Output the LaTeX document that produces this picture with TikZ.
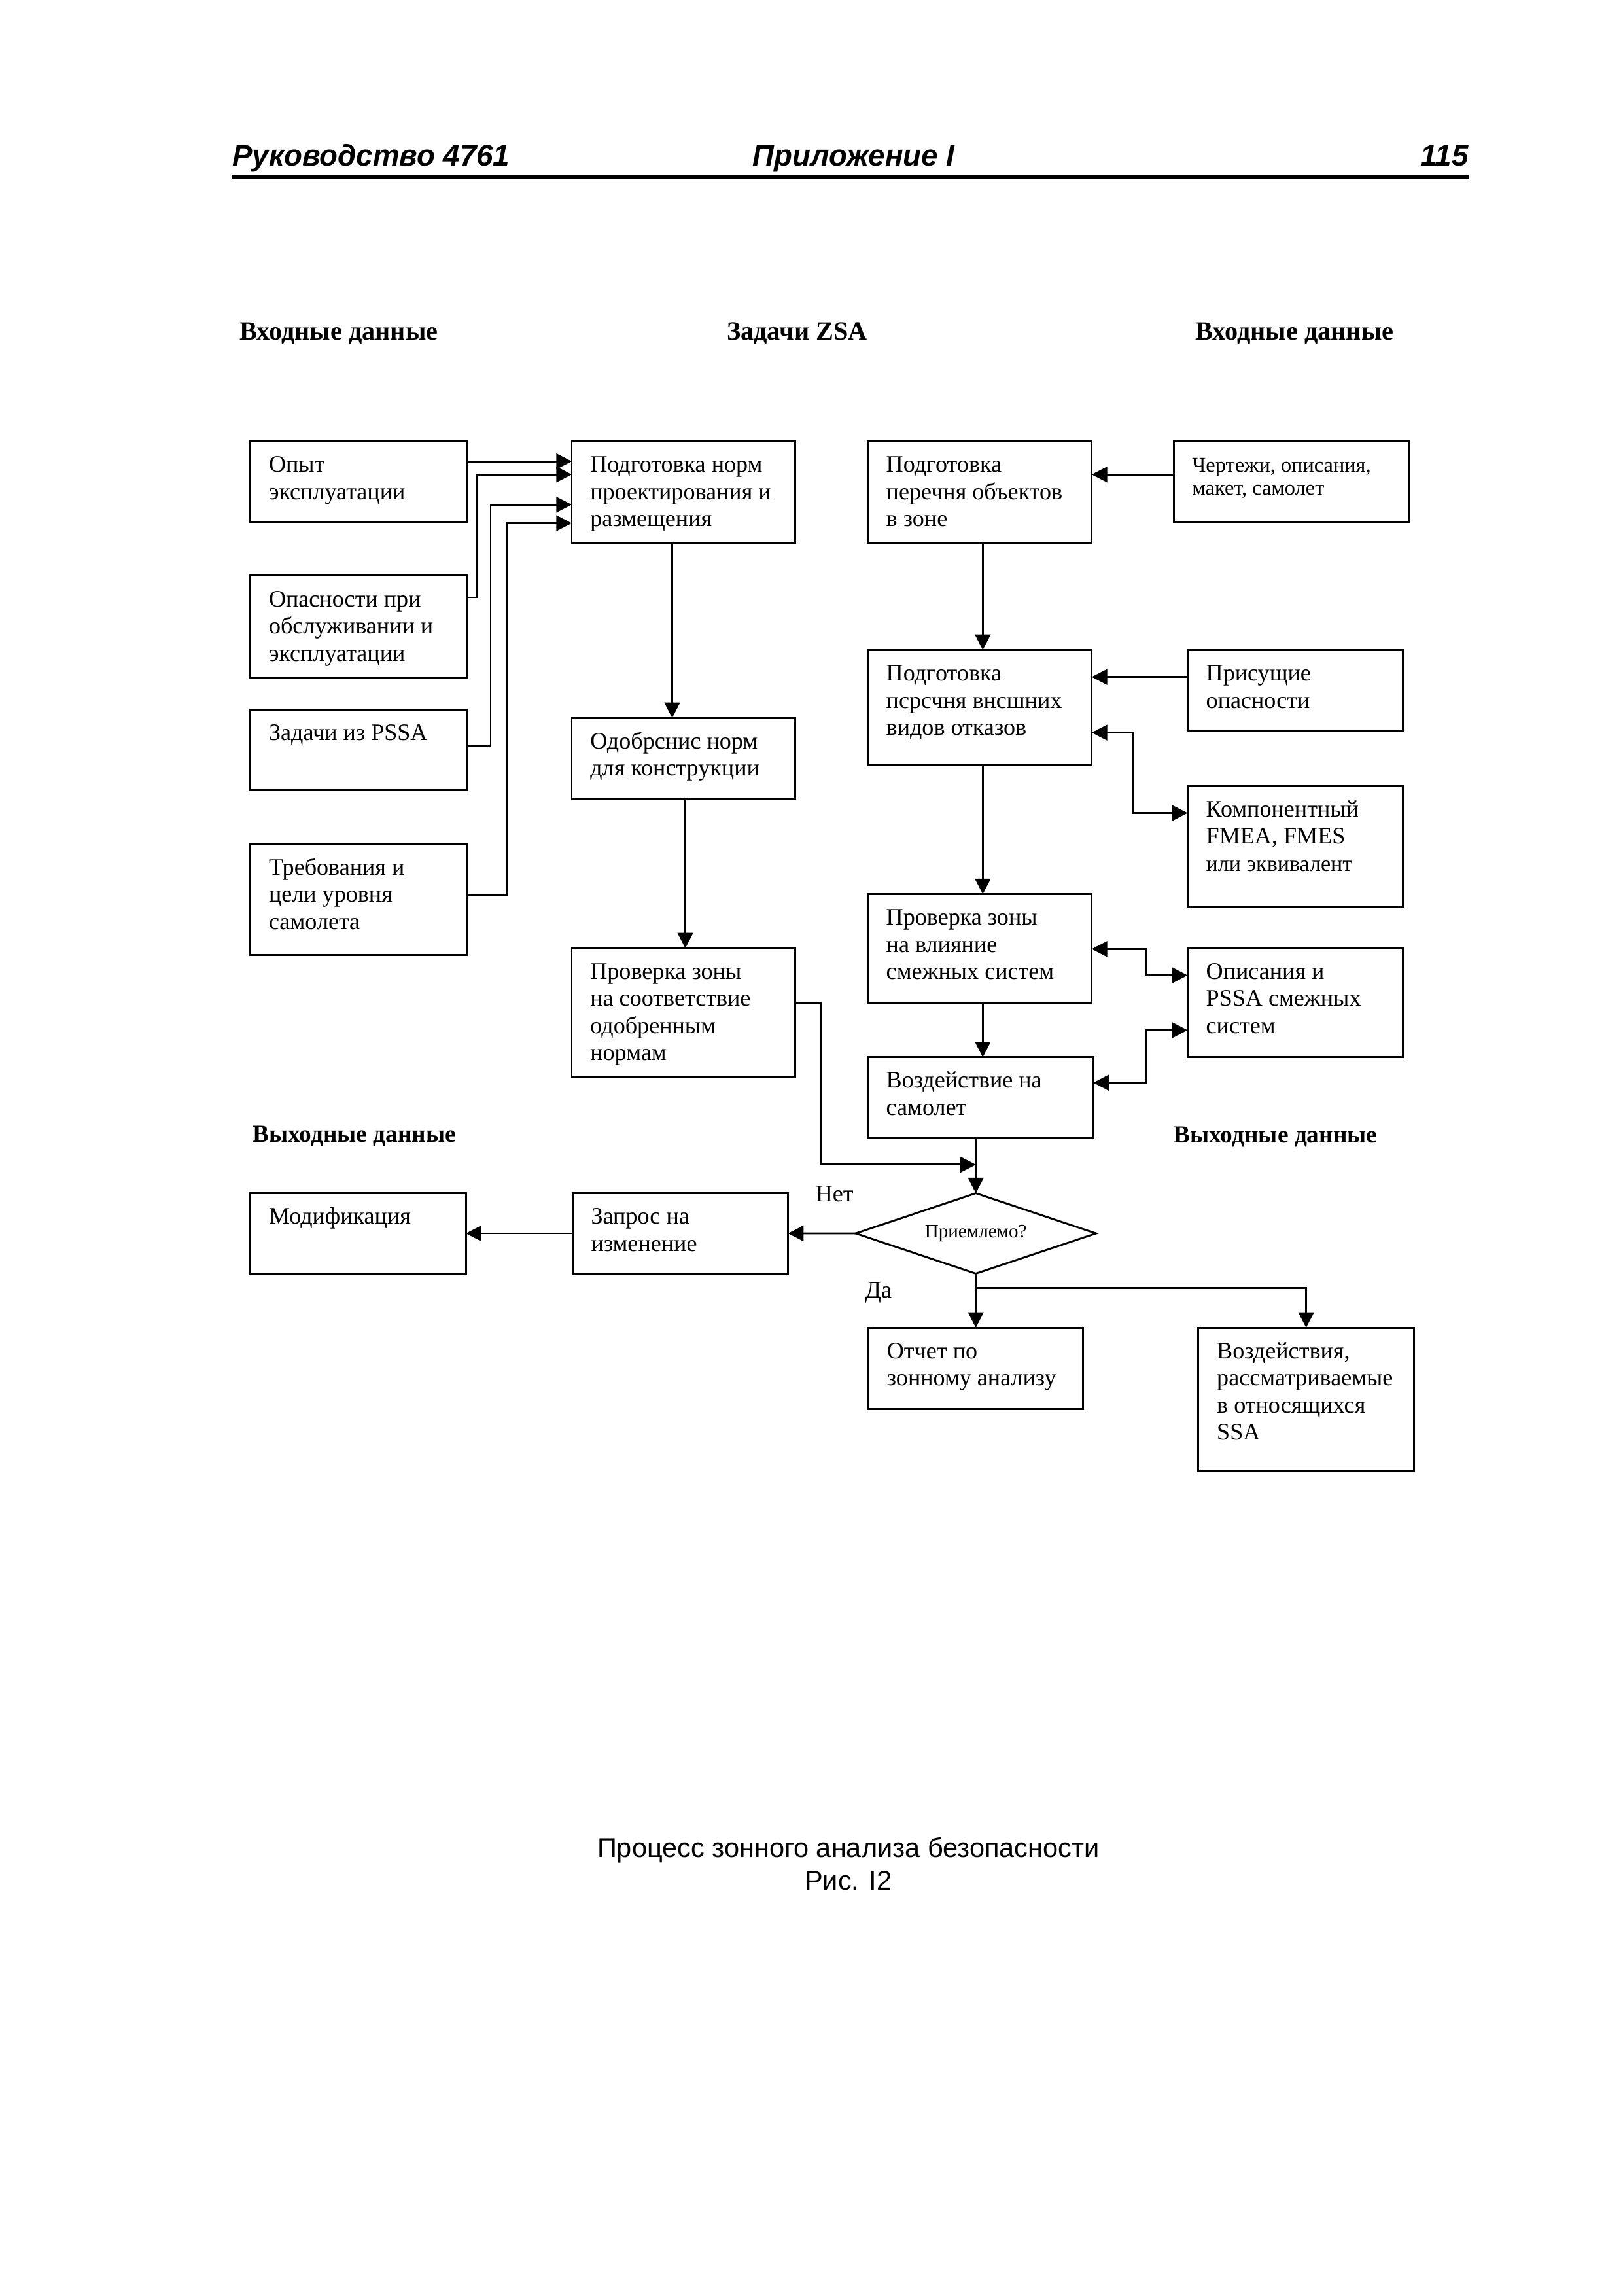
\documentclass[tikz,border=0pt]{standalone}
\usepackage{fontspec}
\setmainfont{Liberation Serif}
\newfontfamily\hdrfont{Liberation Sans}
\usetikzlibrary{arrows.meta}
\usetikzlibrary{shapes.geometric}

% box text: width, height (mm), lines
\newcommand{\cellbox}[3]{\parbox[c][#2mm][t]{\dimexpr #1mm-4.8mm\relax}{\raggedright\rule{0pt}{4mm}#3}}

\begin{document}
\begin{tikzpicture}[x=1mm,y=-1mm,
    blk/.style={draw, line width=0.7pt, anchor=north west, inner xsep=2.4mm, inner ysep=0pt, outer sep=0pt, font=\fontsize{8.7}{10}\selectfont},
    smalltxt/.style={font=\fontsize{7.8}{8.3}\selectfont},
    dia/.style={draw, diamond, aspect=3, line width=0.7pt, minimum width=31.1mm, minimum height=10.4mm, inner sep=0pt, outer sep=0pt, font=\fontsize{7}{8}\selectfont},
    hd/.style={anchor=base, inner sep=0pt, font=\fontsize{9.7}{12}\selectfont\bfseries},
    hdout/.style={hd, font=\fontsize{9}{12}\selectfont\bfseries},
    pagehd/.style={inner sep=0pt, font=\hdrfont\bfseries\itshape\fontsize{11}{13}\selectfont},
    lbl/.style={anchor=base west, inner sep=0pt, font=\fontsize{8.7}{10}\selectfont},
    capt/.style={anchor=base, inner sep=0pt, font=\hdrfont\fontsize{10}{12}\selectfont},
    arr/.style={line width=0.7pt, -{Triangle[length=2mm,width=2mm]}},
    arr2/.style={line width=0.7pt, {Triangle[length=2mm,width=2mm]}-{Triangle[length=2mm,width=2mm]}}]
    \useasboundingbox (0,0) rectangle (210,297.1);

    % Page header
    \node[pagehd, anchor=base west] (hdl) at (30.0,21.45) {Руководство 4761};
    \node[pagehd, anchor=base] (hdm) at (110.5,21.45) {Приложение I};
    \node[pagehd, anchor=base east] (hdr) at (190.1,21.45) {115};
    \draw[line width=1.3pt] (30.0,22.85) -- (190.1,22.85);

    % Column headings
    \node[hd] (inl) at (43.85,44.0) {Входные данные};
    \node[hd] (zsa) at (103.15,44.0) {Задачи ZSA};
    \node[hd] (inr) at (167.55,44.0) {Входные данные};

    % Inputs, left column
    \node[blk] (opyt) at (32.4,57.1) {\cellbox{28.0}{10.4}{Опыт\\эксплуатации}};
    \node[blk] (opasn) at (32.4,74.5) {\cellbox{28.0}{13.2}{Опасности при\\обслуживании и\\эксплуатации}};
    \node[blk] (pssa) at (32.4,91.8) {\cellbox{28.0}{10.4}{Задачи из PSSA}};
    \node[blk] (treb) at (32.4,109.2) {\cellbox{28.0}{14.4}{Требования и\\цели уровня\\самолета}};

    % ZSA tasks, left column
    \node[blk] (norm) at (74.0,57.1) {\cellbox{28.9}{13.1}{Подготовка норм\\проектирования и\\размещения}};
    \node[blk] (odobr) at (74.0,92.9) {\cellbox{28.9}{10.4}{Одобрснис норм\\для конструкции}};
    \node[blk] (sootv) at (74.0,122.7) {\cellbox{28.9}{16.7}{Проверка зоны\\на соответствие\\одобренным\\нормам}};

    % ZSA tasks, right column
    \node[blk] (perech) at (112.3,57.1) {\cellbox{29.0}{13.1}{Подготовка\\перечня объектов\\в зоне}};
    \node[blk] (vnesh) at (112.3,84.1) {\cellbox{29.0}{14.9}{Подготовка\\псрсчня внсшних\\видов отказов}};
    \node[blk] (vliyan) at (112.3,115.7) {\cellbox{29.0}{14.1}{Проверка зоны\\на влияние\\смежных систем}};
    \node[blk] (vozd) at (112.3,136.8) {\cellbox{29.2}{10.5}{Воздействие на\\самолет}};

    % Inputs, right column
    \node[blk, smalltxt] (chert) at (151.9,57.1) {\cellbox{30.4}{10.4}{Чертежи, описания,\\макет, самолет}};
    \node[blk] (prisush) at (153.7,84.1) {\cellbox{27.9}{10.5}{Присущие\\опасности}};
    \node[blk] (kompon) at (153.7,101.7) {\cellbox{27.9}{15.7}{Компонентный\\FMEA, FMES\\{\fontsize{8.2}{10}\selectfont или эквивалент}}};
    \node[blk] (opis) at (153.7,122.7) {\cellbox{27.9}{14.1}{Описания и\\PSSA смежных\\систем}};

    % Outputs
    \node[hdout] (outl) at (45.85,147.8) {Выходные данные};
    \node[hdout] (outr) at (165.1,147.9) {Выходные данные};
    \node[dia] (ok) at (126.3,159.6) {Приемлемо?};
    \node[blk] (zapros) at (74.1,154.4) {\cellbox{27.9}{10.4}{Запрос на\\изменение}};
    \node[blk] (modif) at (32.4,154.4) {\cellbox{27.9}{10.4}{Модификация}};
    \node[blk] (otchet) at (112.4,171.8) {\cellbox{27.8}{10.5}{Отчет по\\зонному анализу}};
    \node[blk] (vozdv) at (155.1,171.8) {\cellbox{27.9}{18.6}{Воздействия,\\рассматриваемые\\в относящихся\\SSA}};
    \node[lbl] (no) at (105.5,155.5) {Нет};
    \node[lbl] (yes) at (111.9,167.9) {Да};

    % Inputs to the design norms
    \draw[arr] (opyt.east |- 0,59.7) -- (norm.west |- 0,59.7);
    \foreach \src/\xx/\ys/\yt in {opasn/61.8/77.3/61.4, pssa/63.5/96.5/65.3, treb/65.6/115.8/67.7}
        \draw[arr] (\src.east |- 0,\ys) -| (\xx,\yt) -- (norm.west |- 0,\yt);

    % Left chain
    \draw[arr] (norm.south -| 87.0,0) -- (odobr.north -| 87.0,0);
    \draw[arr] (odobr.south -| 88.7,0) -- (sootv.north -| 88.7,0);
    \draw[arr] (sootv.east |- 0,129.8) -| (106.2,150.7) -- (ok.north |- 0,150.7);

    % Right chain
    \draw[arr] (chert.west |- 0,61.4) -- (perech.east |- 0,61.4);
    \draw[arr] (prisush.west |- 0,87.6) -- (vnesh.east |- 0,87.6);
    \draw[arr] (perech.south -| 127.2,0) -- (vnesh.north -| 127.2,0);
    \draw[arr] (vnesh.south -| 127.2,0) -- (vliyan.north -| 127.2,0);
    \draw[arr] (vliyan.south -| 127.2,0) -- (vozd.north -| 127.2,0);
    \foreach \dst/\src/\xx/\yd/\ys in {kompon/vnesh/146.7/105.2/94.8, opis/vliyan/148.3/126.2/122.8, opis/vozd/148.3/133.3/140.1}
        \draw[arr2] (\src.east |- 0,\ys) -| (\xx,\yd) -- (\dst.west |- 0,\yd);

    % Decision
    \draw[arr] (vozd.south -| ok.north) -- (ok.north);
    \draw[arr] (ok.west) -- (zapros.east);
    \draw[arr] (zapros.west) -- (modif.east);
    \draw[arr] (ok.south) -- (otchet.north);
    \draw[arr] (ok.south |- 0,166.7) -| (vozdv.north);

    % Caption
    \node[capt] (capa) at (109.8,240.3) {Процесс зонного анализа безопасности};
    \node[capt] (capb) at (109.8,244.6) {Рис. I2};
\end{tikzpicture}
\end{document}
